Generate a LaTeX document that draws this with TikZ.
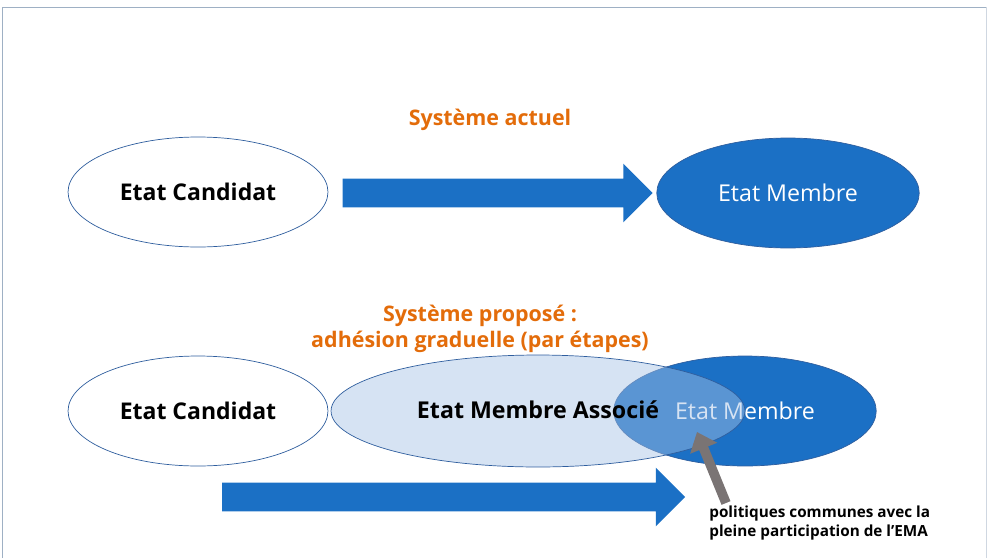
\documentclass[tikz,border=0pt]{standalone}
\usepackage{fontspec}
\setmainfont{Open Sans}
\usetikzlibrary{positioning,calc,shapes,arrows.meta}

\definecolor{titleorange}{HTML}{E36C0A}
\definecolor{edgeblue}{HTML}{2F5E9E}
\definecolor{memberblue}{HTML}{1B70C5}
\definecolor{assocblue}{HTML}{A6C2E5}
\definecolor{pointergray}{HTML}{7A7474}
\definecolor{framegray}{HTML}{9EB0C4}

\begin{document}
\begin{tikzpicture}[x=0.02cm,y=-0.02cm,
    every node/.style={font=\fontsize{13.2}{15}\selectfont},
    title/.style={text=titleorange,font=\fontsize{12.2}{15}\selectfont\bfseries,align=center},
    candidate/.style={draw=edgeblue,fill=white,ellipse,minimum width=5.2cm,minimum height=2.2cm,font=\fontsize{13.1}{15}\selectfont\bfseries},
    member/.style={draw=edgeblue,fill=memberblue,ellipse,minimum width=5.25cm,minimum height=2.2cm,text=white},
    associate/.style={draw=edgeblue,fill=assocblue,fill opacity=0.46,ellipse,minimum width=8.28cm,minimum height=2.24cm},
    blockarrow/.style={single arrow,fill=memberblue,inner xsep=0pt,inner ysep=0.28cm,single arrow head extend=0.3cm,single arrow head indent=0pt},
    pointer/.style={draw=pointergray,line width=5.5pt,-{Triangle[length=10pt,width=16pt]}}
  ]
  \useasboundingbox (0,0) rectangle (987,558);
  \draw[framegray] (2,558) -- (2,7) -- (986,7);
  \draw[framegray!50] (986,7) -- (986,558);

  \node[title] (now) at (490,120) {Système actuel};

  \node[candidate] (c0) at (198,192) {Etat Candidat};
  \node[member] (m0) at (788,193) {Etat Membre};
  \node[blockarrow,minimum height=6.2cm] (a0) at (490.5,193) {};

  \node[title] (plan) at (480,329) {Système proposé :\\adhésion graduelle (par étapes)};

  \node[candidate] (c1) at (198,411) {Etat Candidat};
  \node[member] (m1) at (745,411) {Etat Membre};
  \node[associate] (s1) at (538,411) {};
  \node[font=\fontsize{13.2}{15}\selectfont\bfseries] (s1text) at (538,410) {Etat Membre Associé};
  \node[blockarrow,minimum height=9.26cm] (a1) at (446.5,497) {};

  \node[anchor=north west,align=left,inner sep=0pt,font=\fontsize{8.7}{10.6}\selectfont\bfseries] (note) at (709,506) {politiques communes avec la\\pleine participation de l’EMA};
  \coordinate (tip) at (697,432);
  \draw[pointer] ([xshift=0.34cm,yshift=0.06cm]note.north west) -- (tip);
\end{tikzpicture}
\end{document}
